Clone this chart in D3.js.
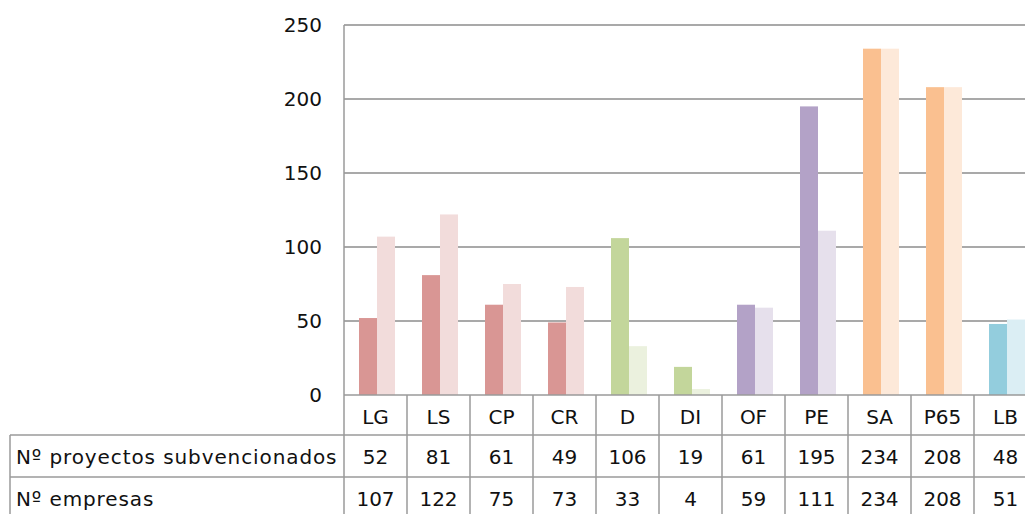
<!DOCTYPE html>
<html>
<head>
<meta charset="utf-8">
<script src="https://cdn.jsdelivr.net/npm/d3@7"></script>
<style>
  body { margin: 0; background: #fff; overflow: hidden; }
  svg text { font-family: "DejaVu Sans", Verdana, sans-serif; fill: #111; }
</style>
</head>
<body>
<div id="chart"></div>
<script>
// Chart data
const categories = ["LG", "LS", "CP", "CR", "D", "DI", "OF", "PE", "SA", "P65", "LB"];
const seriesNames = ["Nº proyectos subvencionados", "Nº empresas"];
const proyectos = [52, 81, 61, 49, 106, 19, 61, 195, 234, 208, 48];
const empresas = [107, 122, 75, 73, 33, 4, 59, 111, 234, 208, 51];
const yTicks = [0, 50, 100, 150, 200, 250];

// colour family for each category: [dark, light]
const families = {
    red: ["#d99694", "#f2dcdb"],
    green: ["#c3d69b", "#ebf1de"],
    purple: ["#b3a2c7", "#e6e0ec"],
    orange: ["#fac090", "#fde9d9"],
    blue: ["#93cddd", "#dbeef4"]
};
const familyOf = ["red", "red", "red", "red", "green", "green", "purple", "purple", "orange", "orange", "blue"];

const width = 1025, height = 514;
const plotLeft = 344, plotTop = 25, plotBottom = 395, colW = 63;
const rowH = [40, 42, 42];  // header, row 1, row 2
const fontSize = "20px";

const svg = d3.select("#chart")
    .append("svg")
    .attr("width", width)
    .attr("height", height);

const x = d3.scaleBand()
    .domain(categories)
    .range([plotLeft, plotLeft + colW * categories.length])
    .paddingInner(0);

const xSeries = d3.scaleBand()
    .domain([0, 1])
    .range([15, 51]);

const y = d3.scaleLinear()
    .domain([0, 250])
    .range([plotBottom, plotTop]);

// Grid lines (incl. the top border at 250)
svg.append("g")
    .selectAll("line")
    .data(yTicks.filter(d => d > 0))
    .enter()
    .append("line")
    .attr("x1", plotLeft)
    .attr("x2", width)
    .attr("y1", d => y(d))
    .attr("y2", d => y(d))
    .attr("stroke", "#8c8c8c")
    .attr("stroke-width", 1.5);

// Y tick labels
svg.append("g")
    .selectAll("text")
    .data(yTicks)
    .enter()
    .append("text")
    .attr("x", 322)
    .attr("y", d => y(d))
    .attr("dy", "0.35em")
    .attr("text-anchor", "end")
    .style("font-size", fontSize)
    .text(d => d);

// Bars
const values = [proyectos, empresas];
const bars = svg.append("g");
values.forEach((vals, s) => {
    bars.selectAll(null)
        .data(categories)
        .enter()
        .append("rect")
        .attr("x", (d, i) => x(d) + xSeries(s))
        .attr("y", (d, i) => y(vals[i]))
        .attr("width", xSeries.bandwidth())
        .attr("height", (d, i) => y(0) - y(vals[i]))
        .attr("fill", (d, i) => families[familyOf[i]][s]);
});

// Data table below the chart
const lineColor = "#9a9a9a";
const table = svg.append("g");
const rowTop = [plotBottom, plotBottom + rowH[0], plotBottom + rowH[0] + rowH[1]];
const tableRight = x.range()[1];

// horizontal lines
table.append("line")
    .attr("x1", plotLeft).attr("x2", tableRight)
    .attr("y1", rowTop[0]).attr("y2", rowTop[0])
    .attr("stroke", lineColor).attr("stroke-width", 1.5);
[rowTop[1], rowTop[2]].forEach(yy => {
    table.append("line")
        .attr("x1", 10).attr("x2", tableRight)
        .attr("y1", yy).attr("y2", yy)
        .attr("stroke", lineColor).attr("stroke-width", 1.5);
});

// vertical lines
table.selectAll(null)
    .data(categories)
    .enter()
    .append("line")
    .attr("x1", d => x(d) + colW)
    .attr("x2", d => x(d) + colW)
    .attr("y1", rowTop[0])
    .attr("y2", height)
    .attr("stroke", lineColor)
    .attr("stroke-width", 1.5);
table.append("line")
    .attr("x1", plotLeft).attr("x2", plotLeft)
    .attr("y1", plotTop).attr("y2", height)
    .attr("stroke", lineColor).attr("stroke-width", 1.5);
table.append("line")
    .attr("x1", 10).attr("x2", 10)
    .attr("y1", rowTop[1]).attr("y2", height)
    .attr("stroke", lineColor).attr("stroke-width", 1.5);

// category labels
table.selectAll(null)
    .data(categories)
    .enter()
    .append("text")
    .attr("x", d => x(d) + colW / 2)
    .attr("y", rowTop[0] + rowH[0] / 2 + 2)
    .attr("dy", "0.35em")
    .attr("text-anchor", "middle")
    .style("font-size", fontSize)
    .text(d => d);

// series rows
values.forEach((vals, s) => {
    const cy = rowTop[s + 1] + rowH[s + 1] / 2 + 1;
    table.append("text")
        .attr("x", 16)
        .attr("y", cy)
        .attr("dy", "0.35em")
        .style("font-size", fontSize)
        .style("letter-spacing", "0.9px")
        .text(seriesNames[s]);
    table.selectAll(null)
        .data(categories)
        .enter()
        .append("text")
        .attr("x", d => x(d) + colW / 2)
        .attr("y", cy)
        .attr("dy", "0.35em")
        .attr("text-anchor", "middle")
        .style("font-size", fontSize)
        .text((d, i) => vals[i]);
});
</script>
</body>
</html>
